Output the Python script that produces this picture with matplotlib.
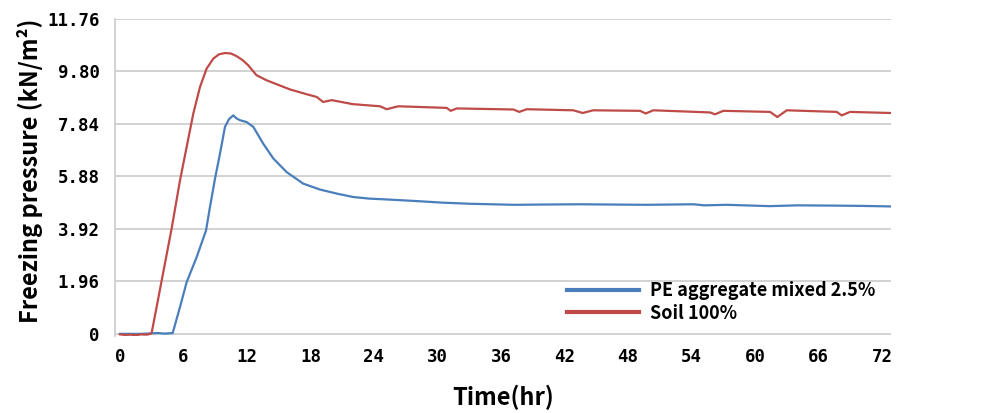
import matplotlib
matplotlib.use("Agg")
import matplotlib.pyplot as plt

# ---- data ----
pe_time = [0, 1.0, 2.0, 3.0, 3.6, 4.2, 4.98, 5.67, 6.3, 7.24, 8.13, 8.5, 8.98, 9.45, 9.92,
           10.3, 10.71, 11.0, 11.34, 11.97, 12.6, 13.54, 14.49, 15.75, 17.32, 18.9, 20.47,
           22.05, 23.6, 25.2, 28.0, 30.5, 33.0, 37.2, 40.0, 43.5, 46.5, 49.8, 54.2, 55.2,
           57.3, 61.4, 64.0, 67.4, 70.0, 72.76]
pe_vals = [0.0, 0.0, 0.0, 0.02, 0.03, 0.01, 0.03, 1.0, 1.93, 2.86, 3.86, 4.73, 5.8, 6.73, 7.73,
           8.02, 8.16, 8.05, 7.98, 7.91, 7.73, 7.1, 6.55, 6.04, 5.61, 5.39, 5.24,
           5.11, 5.05, 5.02, 4.96, 4.9, 4.86, 4.82, 4.83, 4.84, 4.83, 4.82, 4.84, 4.80,
           4.82, 4.77, 4.80, 4.79, 4.78, 4.76]

soil_time = [0, 0.5, 1.0, 1.5, 2.0, 2.5, 2.9, 3.0, 3.94, 4.88, 5.67, 6.3, 6.93, 7.56, 8.19,
             8.82, 9.35, 9.92, 10.5, 11.03, 11.6, 12.12, 12.9, 13.86, 16.06, 17.64, 18.58,
             19.2, 20.0, 22.0, 24.57, 25.2, 26.3, 30.87, 31.25, 31.82, 37.16, 37.73, 38.43,
             42.83, 43.72, 44.72, 49.14, 49.67, 50.39, 55.75, 56.22, 57.0, 61.42, 62.11,
             63.0, 67.72, 68.19, 68.98, 72.76]
soil_vals = [-0.02, -0.04, -0.03, -0.05, -0.02, -0.03, 0.0, 0.05, 1.99, 3.93, 5.73, 6.98, 8.23,
             9.22, 9.91, 10.28, 10.44, 10.49, 10.47, 10.37, 10.22, 10.03, 9.66, 9.47, 9.13,
             8.95, 8.85, 8.66, 8.73, 8.58, 8.5, 8.39, 8.5, 8.44, 8.33, 8.42, 8.38, 8.29,
             8.39, 8.35, 8.25, 8.35, 8.33, 8.23, 8.35, 8.27, 8.20, 8.33, 8.29, 8.10, 8.35,
             8.29, 8.16, 8.29, 8.25]

series_labels = ["PE aggregate mixed 2.5%", "Soil 100%"]
y_ticks = [0, 1.96, 3.92, 5.88, 7.84, 9.80, 11.76]
y_ticklabels = ["0", "1.96", "3.92", "5.88", "7.84", "9.80", "11.76"]
x_ticks = list(range(0, 73, 6))
x_label = "Time(hr)"
y_label = "Freezing pressure (kN/m²)"

# ---- plot ----
fig = plt.figure(figsize=(9.91, 4.13), dpi=100)
ax = fig.add_axes([115 / 991, 1 - 336 / 413, (891 - 115) / 991, (336 - 19) / 413])

blue = "#4A7EBB"
red = "#BE4B48"
ax.plot(pe_time, pe_vals, color=blue, lw=1.6, label=series_labels[0])
ax.plot(soil_time, soil_vals, color=red, lw=1.6, label=series_labels[1])

ax.set_xlim(-0.47, 72.85)
ax.set_ylim(-0.08, 11.76)

for yv in y_ticks:
    ax.axhline(yv, color="#CFCFCF", lw=1.3, zorder=0)

for s in ["top", "right", "bottom"]:
    ax.spines[s].set_visible(False)
ax.spines["left"].set_color("#CFCFCF")
ax.spines["left"].set_linewidth(1.3)

tick_font = dict(family="DejaVu Sans Mono", weight="bold", size=12.5)
ax.set_yticks(y_ticks)
ax.set_yticklabels(y_ticklabels, **tick_font)
ax.set_xticks(x_ticks)
ax.set_xticklabels([str(v) for v in x_ticks], **tick_font)
ax.tick_params(axis="y", length=0, pad=11)
ax.tick_params(axis="x", length=0, pad=9)

lab_font = dict(family=["Noto Sans CJK KR", "DejaVu Sans"], weight="bold")
ax.set_xlabel(x_label, fontsize=17, labelpad=13, **lab_font)
fig.text(30 / 991, 1 - 171 / 413, y_label, rotation=90, ha="center", va="center",
         fontsize=17, **lab_font)

leg = ax.legend(loc="upper left", bbox_to_anchor=(558 / 991, 1 - 272 / 413),
                bbox_transform=fig.transFigure, frameon=False,
                prop=dict(family=["Noto Sans CJK KR", "DejaVu Sans"], weight="bold", size=13),
                handlelength=4.0, handletextpad=0.6, labelspacing=0.2, borderpad=0)
for h in leg.get_lines():
    h.set_linewidth(3)

fig.savefig("out.png", dpi=100)
